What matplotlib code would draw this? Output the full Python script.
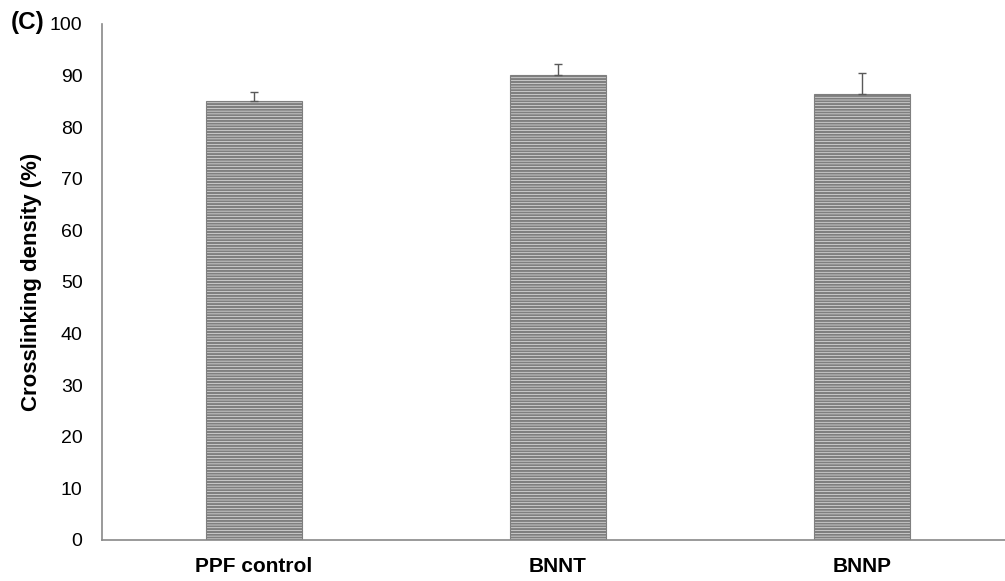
import matplotlib
matplotlib.use("Agg")
import matplotlib.pyplot as plt

categories = ["PPF control", "BNNT", "BNNP"]
values = [85.1, 90.1, 86.4]
errors = [1.7, 2.1, 4.1]
yticks = [0, 10, 20, 30, 40, 50, 60, 70, 80, 90, 100]

plt.rcParams['font.family'] = ['Liberation Sans', 'DejaVu Sans']
plt.rcParams['hatch.linewidth'] = 1.6
plt.rcParams['hatch.color'] = 'black'

fig = plt.figure(figsize=(10.05, 5.81), dpi=100)
ax = fig.add_axes([102/1005, 1 - 540/581, (1014 - 102)/1005, (540 - 24)/581])

x = range(len(categories))
ax.bar(x, values, width=0.315, color='white', edgecolor='#7f7f7f', linewidth=0.8,
       hatch='------')
ax.errorbar(x, values, yerr=[[0]*3, errors], fmt='none', ecolor='#595959',
            elinewidth=1.0, capsize=3, capthick=1.0)

ax.set_xlim(-0.5, 2.5)
ax.set_ylim(0, 100)
ax.set_yticks(yticks)
ax.set_xticks(list(x))
ax.set_xticklabels(categories, fontsize=15, fontweight='bold')
ax.tick_params(axis='y', labelsize=14, length=0, pad=14)
ax.tick_params(axis='x', length=0, pad=12)
for s in ['top', 'right']:
    ax.spines[s].set_visible(False)
for s in ['left', 'bottom']:
    ax.spines[s].set_color('#898989')
    ax.spines[s].set_linewidth(1.2)
ax.set_ylabel("Crosslinking density (%)", fontsize=16, fontweight='bold', labelpad=6)
fig.text(11/1005, 1 - 22/581, "(C)", fontsize=17.5, fontweight='bold', va='center', ha='left')

fig.savefig("out.png", dpi=100)
